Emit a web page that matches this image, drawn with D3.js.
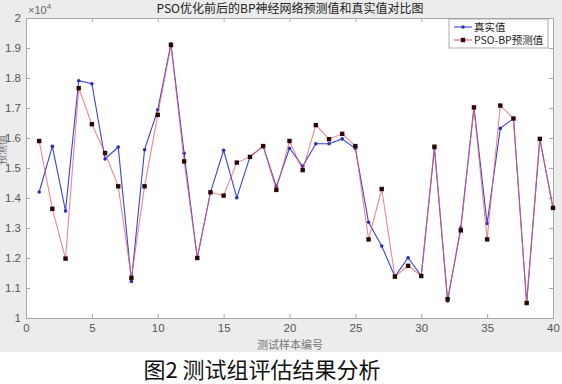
<!DOCTYPE html>
<html>
<head>
<meta charset="utf-8">
<script src="https://cdn.jsdelivr.net/npm/d3@7"></script>
<style>
  body { margin: 0; background: #fff; }
  svg { display: block; }
</style>
</head>
<body>
<svg id="chart" width="562" height="384"></svg>
<script>
// sample index 1..40
var samples = d3.range(1, 41);

// measured values (real)
var trueVals = [14200, 15720, 13570, 17910, 17810, 15300, 15700, 11220, 15610, 16940,
	19140, 15490, 12000, 14190, 15590, 14010, 15370, 15730, 14380, 15660,
	15060, 15810, 15810, 15970, 15650, 13190, 12400, 11380, 12010, 11400,
	15650, 10570, 13010, 17020, 13150, 16320, 16650, 10500, 15970, 13670];

// PSO-BP predicted values
var predVals = [15900, 13640, 11980, 17660, 16460, 15500, 14390, 11340, 14390, 16770,
	19100, 15220, 12000, 14190, 14080, 15180, 15370, 15730, 14270, 15900,
	14930, 16430, 15960, 16140, 15730, 12620, 14300, 11380, 11740, 11400,
	15710, 10630, 12920, 17020, 12620, 17080, 16650, 10500, 15970, 13670];

var xTicks = [0, 5, 10, 15, 20, 25, 30, 35, 40];
var yTicks = [10000, 11000, 12000, 13000, 14000, 15000, 16000, 17000, 18000, 19000, 20000];

function drawChart() {
	var svg = d3.select("#chart");
	var W = 562;
	var axLeft = 26, axRight = 553, axTop = 18, axBottom = 318;

	// figure background (gray, as in the exported figure)
	svg.append("rect").attr("x", 0).attr("y", 0).attr("width", W).attr("height", 352).attr("fill", "#ececec");

	var x = d3.scaleLinear().domain([0, 40]).range([axLeft, axRight]);
	var y = d3.scaleLinear().domain([10000, 20000]).range([axBottom, axTop]);

	svg.append("rect").attr("x", axLeft).attr("y", axTop)
		.attr("width", axRight - axLeft).attr("height", axBottom - axTop)
		.attr("fill", "#fff");

	var tickFont = "'Liberation Sans', Arial, sans-serif";
	var cjk = "'Noto Sans CJK SC', sans-serif";

	// axes
	var xAxis = d3.axisBottom(x).tickValues(xTicks).tickSize(-4).tickPadding(6).tickFormat(d3.format("d"));
	var yAxis = d3.axisLeft(y).tickValues(yTicks).tickSize(-4).tickPadding(5)
		.tickFormat(d => d === 10000 ? "1" : d === 20000 ? "2" : d3.format(".1f")(d / 10000));

	var gx = svg.append("g").attr("transform", `translate(0,${ axBottom })`).call(xAxis);
	var gy = svg.append("g").attr("transform", `translate(${ axLeft },0)`).call(yAxis);

	// top and right axes (ticks only)
	var gxt = svg.append("g").attr("transform", `translate(0,${ axTop })`)
		.call(d3.axisTop(x).tickValues(xTicks).tickSize(-4).tickFormat(""));
	var gyr = svg.append("g").attr("transform", `translate(${ axRight },0)`)
		.call(d3.axisRight(y).tickValues(yTicks).tickSize(-4).tickFormat(""));

	[gx, gy, gxt, gyr].forEach(g => {
		g.select(".domain").attr("stroke", "#a8a8a8").attr("stroke-width", 1);
		g.selectAll(".tick line").attr("stroke", "#a8a8a8");
		g.selectAll(".tick text").attr("fill", "#555").style("font-family", tickFont).style("font-size", "11.5px");
	});

	// x10^4 exponent label
	var ex = svg.append("text").attr("x", 28).attr("y", 14)
		.style("font-family", tickFont).style("font-size", "11px").attr("fill", "#666");
	ex.append("tspan").text("×10");
	ex.append("tspan").text("4").attr("dy", -5).style("font-size", "8px");

	// title
	svg.append("text").text("PSO优化前后的BP神经网络预测值和真实值对比图")
		.attr("x", 290).attr("y", 13)
		.style("font-family", cjk)
		.style("font-size", "12px")
		.attr("fill", "#222")
		.style("text-anchor", "middle");

	// axis labels
	svg.append("text").text("测试样本编号")
		.attr("x", 290).attr("y", 349)
		.style("font-family", cjk)
		.style("font-size", "11px").attr("fill", "#777")
		.style("text-anchor", "middle");

	svg.append("text").text("预测值")
		.attr("transform", "translate(6,150) rotate(-90)")
		.style("font-family", cjk)
		.style("font-size", "10px").attr("fill", "#777")
		.style("text-anchor", "middle");

	// caption under the figure
	svg.append("text").text("图2 测试组评估结果分析")
		.attr("x", 262).attr("y", 378)
		.style("font-family", cjk)
		.style("font-size", "22px").attr("fill", "#111")
		.style("text-anchor", "middle");

	var line = d3.line().x((d, i) => x(samples[i])).y(d => y(d));

	var blue = "#3a45d6", red = "#e4606e";

	svg.append("path").datum(trueVals).attr("d", line)
		.attr("fill", "none").attr("stroke", blue).attr("stroke-width", 1.1);

	svg.selectAll(".ptTrue").data(trueVals).enter().append("circle")
		.attr("class", "ptTrue")
		.attr("cx", (d, i) => x(samples[i])).attr("cy", d => y(d))
		.attr("r", 1.8).attr("fill", "#2a2fb0");

	svg.append("path").datum(predVals).attr("d", line)
		.attr("fill", "none").attr("stroke", red).attr("stroke-width", 1.1).attr("stroke-opacity", 0.75);

	svg.selectAll(".ptPred").data(predVals).enter().append("rect")
		.attr("class", "ptPred")
		.attr("x", (d, i) => x(samples[i]) - 2.2).attr("y", d => y(d) - 2.2)
		.attr("width", 4.4).attr("height", 4.4).attr("fill", "#2a0808");

	// legend
	var lg = svg.append("g").attr("transform", "translate(449,19)");
	lg.append("rect").attr("width", 99).attr("height", 29)
		.attr("fill", "#fff").attr("stroke", "#999").attr("stroke-width", 0.8);

	var items = [
		{ name: "真实值", color: blue, marker: "circle" },
		{ name: "PSO-BP预测值", color: red, marker: "square" }
	];

	items.forEach((it, i) => {
		var yy = 8 + i * 13;
		lg.append("line").attr("x1", 5).attr("x2", 23).attr("y1", yy).attr("y2", yy)
			.attr("stroke", it.color).attr("stroke-width", 1.1);
		if (it.marker === "circle") {
			lg.append("circle").attr("cx", 14).attr("cy", yy).attr("r", 1.8).attr("fill", "#2a2fb0");
		} else {
			lg.append("rect").attr("x", 11.8).attr("y", yy - 2.2).attr("width", 4.4).attr("height", 4.4).attr("fill", "#2a0808");
		}
		lg.append("text").text(it.name).attr("x", 25).attr("y", yy + 3.8)
			.style("font-family", cjk)
			.style("font-size", "10.5px").attr("fill", "#222");
	});
}

drawChart();
</script>
</body>
</html>
